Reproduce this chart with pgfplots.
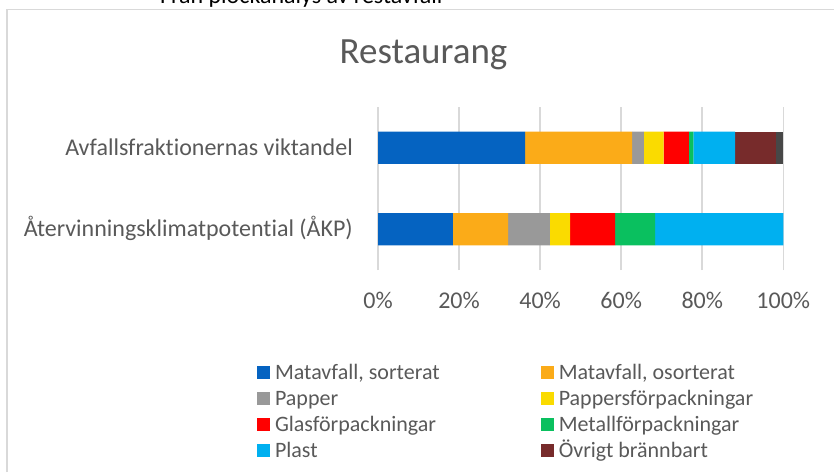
\documentclass[border=0pt]{standalone}
\usepackage{fontspec}
\setmainfont{Carlito}[Ligatures=NoCommon]
\usepackage{pgfplots}
\pgfplotsset{compat=1.18}
\definecolor{txt}{HTML}{595959}
\definecolor{gridc}{HTML}{D9D9D9}
\definecolor{cA}{HTML}{0563C1}
\definecolor{cB}{HTML}{FBAB18}
\definecolor{cC}{HTML}{999999}
\definecolor{cD}{HTML}{FADB00}
\definecolor{cE}{HTML}{FF0000}
\definecolor{cF}{HTML}{0AC05F}
\definecolor{cG}{HTML}{00B0F0}
\definecolor{cH}{HTML}{772B2B}
\definecolor{cI}{HTML}{474747}
\begin{document}
\begin{tikzpicture}[x=1pt,y=1pt]
\useasboundingbox (0,0) rectangle (834,472);
\draw[gridc, line width=1.2pt] (7,0) -- (7,462.5) -- (834,462.5);
\node[anchor=base west, inner sep=0pt, font=\fontsize{24}{28}\selectfont] at (160,468) {Från plockanalys av restavfall};
\node[anchor=base, inner sep=0pt, text=txt, font=\fontsize{37}{44}\selectfont] at (423.5,408.7) {Restaurang};
\begin{axis}[
  at={(378pt,202pt)}, anchor=south west,
  scale only axis, width=405.3pt, height=163pt,
  xbar stacked, bar width=32.3pt,
  xmin=0, xmax=100, ymin=-0.5, ymax=1.5,
  xtick={0,20,40,60,80,100},
  xticklabels={0\%,20\%,40\%,60\%,80\%,100\%},
  ytick={0,1},
  yticklabels={Återvinningsklimatpotential (ÅKP),Avfallsfraktionernas viktandel},
  xmajorgrids, grid style={gridc, line width=1.5pt},
  axis line style={draw=none},
  major tick length=0pt,
  tick label style={text=txt, font=\fontsize{24}{28}\selectfont, inner sep=0pt},
  xticklabel style={anchor=base, yshift=-38pt},
  yticklabel style={anchor=base east, xshift=-25pt, yshift=-7.7pt},
  legend columns=2,
  legend cell align=left,
  legend image code/.code={\path[#1, draw=none] (0pt,-6.5pt) rectangle (13pt,6.5pt);},
  legend style={draw=none, fill=none, inner sep=0pt, outer sep=0pt,
    at={(-0.2985,-0.5478)}, anchor=north west,
    font=\fontsize{22}{26}\selectfont, text=txt, row sep=0pt,
    nodes={inner sep=0pt, outer sep=0pt, text height=20.5pt, text depth=5.5pt},
    /tikz/every odd column/.append style={column sep=5pt},
    /tikz/every even column/.append style={column sep=101pt}},
]
\addplot[fill=cA, draw=none] coordinates {(18.5,0) (36.3,1)};
\addlegendentry{Matavfall, sorterat}
\addplot[fill=cB, draw=none] coordinates {(13.6,0) (26.4,1)};
\addlegendentry{Matavfall, osorterat}
\addplot[fill=cC, draw=none] coordinates {(10.3,0) (2.9,1)};
\addlegendentry{Papper}
\addplot[fill=cD, draw=none] coordinates {(5.0,0) (4.9,1)};
\addlegendentry{Pappersförpackningar}
\addplot[fill=cE, draw=none] coordinates {(11.1,0) (6.2,1)};
\addlegendentry{Glasförpackningar}
\addplot[fill=cF, draw=none] coordinates {(9.9,0) (1.1,1)};
\addlegendentry{Metallförpackningar}
\addplot[fill=cG, draw=none] coordinates {(31.6,0) (10.3,1)};
\addlegendentry{Plast}
\addplot[fill=cH, draw=none] coordinates {(0,0) (10.1,1)};
\addlegendentry{Övrigt brännbart}
\addplot[fill=cI, draw=none] coordinates {(0,0) (1.8,1)};
\end{axis}
\end{tikzpicture}
\end{document}
